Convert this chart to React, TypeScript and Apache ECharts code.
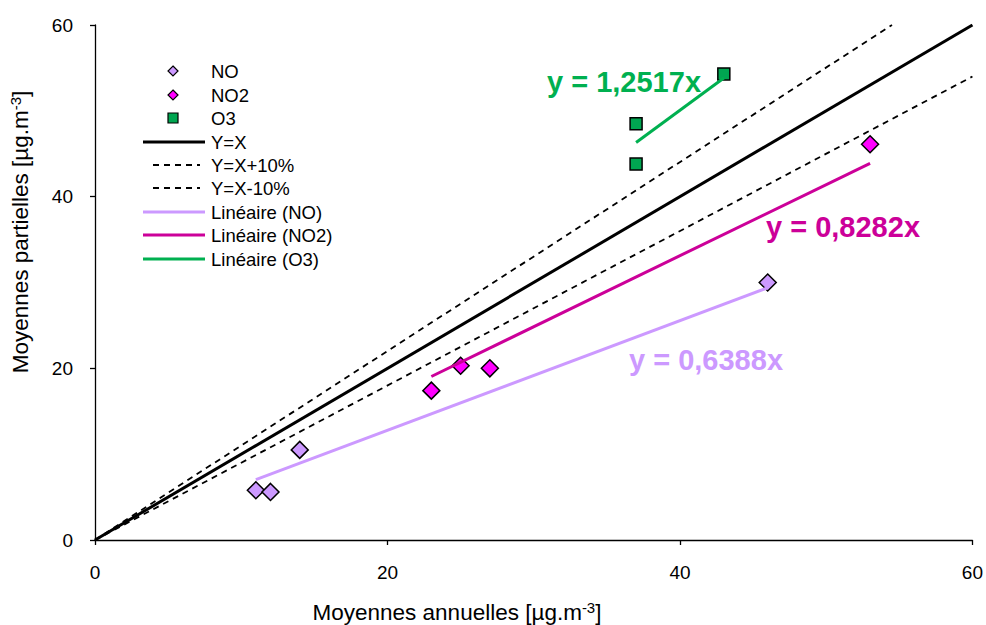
import React, { useEffect, useRef } from "react";
import * as echarts from "echarts";

const xTicks = [0, 20, 40, 60];
const noPoints = [[11, 5.8], [12, 5.6], [14, 10.5], [46, 30.0]];
const no2Points = [[23, 17.4], [25, 20.3], [27, 20.0], [53, 46.1]];
const o3Points = [[37, 48.5], [37, 43.8], [43, 54.3]];
const lineYX = [[0, 0], [60, 60]];
const linePlus10 = [[0, 0], [54.5, 60]];
const lineMinus10 = [[0, 0], [60, 54]];
const trendNO = [[11, 7.03], [46, 29.38]];
const trendNO2 = [[23, 19.05], [53, 43.89]];
const trendO3 = [[37, 46.31], [43, 53.82]];
const eqLabels = ["y = 1,2517x", "y = 0,8282x", "y = 0,6388x"];
const legendNames = ["NO", "NO2", "O3", "Y=X", "Y=X+10%", "Y=X-10%", "Linéaire (NO)", "Linéaire (NO2)", "Linéaire (O3)"];

const FONT = "Liberation Sans, Arial, sans-serif";
const C_NO = "#CC99FF";
const C_NO2 = "#FF00FF";
const C_NO2L = "#CC0099";
const C_O3 = "#00A651";
const C_O3L = "#00B050";

export default function App() {
  const ref = useRef<HTMLDivElement>(null);
  useEffect(() => {
    const chart = echarts.init(ref.current!, null, { renderer: "svg" });
    const diamond = (x: number, y: number, r: number) => [[x, y - r], [x + r, y], [x, y + r], [x - r, y]];
    const rowY = [71, 95, 118, 142, 165, 188, 212, 235, 259];
    const legendGraphics: any[] = [];
    legendGraphics.push({ type: "polygon", shape: { points: diamond(173, rowY[0], 5) }, style: { fill: C_NO, stroke: "#000", lineWidth: 1.2 } });
    legendGraphics.push({ type: "polygon", shape: { points: diamond(173, rowY[1], 5) }, style: { fill: C_NO2, stroke: "#000", lineWidth: 1.2 } });
    legendGraphics.push({ type: "rect", shape: { x: 168, y: rowY[2] - 5, width: 10, height: 10 }, style: { fill: C_O3, stroke: "#000", lineWidth: 1.2 } });
    legendGraphics.push({ type: "line", shape: { x1: 143, y1: rowY[3], x2: 205, y2: rowY[3] }, style: { stroke: "#000", lineWidth: 3 } });
    legendGraphics.push({ type: "line", shape: { x1: 153, y1: rowY[4], x2: 200, y2: rowY[4] }, style: { stroke: "#000", lineWidth: 1.8, lineDash: [6, 5] } });
    legendGraphics.push({ type: "line", shape: { x1: 153, y1: rowY[5], x2: 200, y2: rowY[5] }, style: { stroke: "#000", lineWidth: 1.8, lineDash: [6, 5] } });
    legendGraphics.push({ type: "line", shape: { x1: 143, y1: rowY[6], x2: 205, y2: rowY[6] }, style: { stroke: C_NO, lineWidth: 3 } });
    legendGraphics.push({ type: "line", shape: { x1: 143, y1: rowY[7], x2: 205, y2: rowY[7] }, style: { stroke: C_NO2L, lineWidth: 3 } });
    legendGraphics.push({ type: "line", shape: { x1: 143, y1: rowY[8], x2: 205, y2: rowY[8] }, style: { stroke: C_O3L, lineWidth: 3 } });
    legendNames.forEach((n, i) => {
      legendGraphics.push({
        type: "text", x: 211, y: rowY[i],
        style: { text: n, font: `18.5px ${FONT}`, fill: "#000", verticalAlign: "middle", align: "left" },
      });
    });
    const eqPos = [[624, 82, C_O3L], [843, 227, C_NO2L], [706, 360, C_NO]];
    const eqGraphics = eqLabels.map((t, i) => ({
      type: "text", x: eqPos[i][0], y: eqPos[i][1],
      style: { text: t, font: `bold 29px ${FONT}`, fill: eqPos[i][2], align: "center", verticalAlign: "middle" },
    }));
    const titleGraphics = [
      {
        type: "text", x: 457, y: 612,
        style: {
          text: "{a|Moyennes annuelles [µg.m}{s|-3}{a|]}",
          align: "center", verticalAlign: "middle",
          rich: {
            a: { fontFamily: FONT, fontSize: 22.5, color: "#000" },
            s: { fontFamily: FONT, fontSize: 15, color: "#000", padding: [0, 0, 10, 0] },
          },
        },
      },
      {
        type: "text", x: 20, y: 232, rotation: Math.PI / 2,
        style: {
          text: "{a|Moyennes partielles [µg.m}{s|-3}{a|]}",
          align: "center", verticalAlign: "middle",
          rich: {
            a: { fontFamily: FONT, fontSize: 22.5, color: "#000" },
            s: { fontFamily: FONT, fontSize: 15, color: "#000", padding: [0, 0, 10, 0] },
          },
        },
      },
    ];
    const axisCommon = {
      type: "value" as const,
      min: 0, max: 60, interval: 20,
      splitLine: { show: false },
      axisLine: { show: true, lineStyle: { color: "#000", width: 1.3 } },
      axisTick: { show: true, inside: false, length: 5, lineStyle: { color: "#000", width: 1.3 } },
    };
    const scatter = (name: string, data: number[][], symbol: string, size: number, color: string) => ({
      name, type: "scatter", data, symbol, symbolSize: size,
      itemStyle: { color, borderColor: "#000", borderWidth: 1.5, opacity: 1 },
      z: 3,
    });
    const line = (name: string, data: number[][], color: string, width: number, dashed = false) => ({
      name, type: "line", data, showSymbol: false, symbol: "none",
      lineStyle: { color, width, type: dashed ? [6, 5] : "solid" },
      z: 4,
    });
    chart.setOption({
      animation: false,
      grid: { left: 95, right: 13, top: 25, bottom: 85, containLabel: false },
      xAxis: {
        ...axisCommon,
        axisLabel: { fontFamily: FONT, fontSize: 19, color: "#000", margin: 23, formatter: (v: number) => (xTicks.includes(v) ? String(v) : "") },
      },
      yAxis: {
        ...axisCommon,
        axisLabel: { fontFamily: FONT, fontSize: 19, color: "#000", margin: 22 },
      },
      series: [
        line("Y=X+10%", linePlus10, "#000", 1.8, true),
        line("Y=X-10%", lineMinus10, "#000", 1.8, true),
        line("Y=X", lineYX, "#000", 3),
        scatter("NO", noPoints, "diamond", 17, C_NO),
        scatter("NO2", no2Points, "diamond", 17, C_NO2),
        scatter("O3", o3Points, "rect", 12, C_O3),
        line("Linéaire (NO)", trendNO, C_NO, 3),
        line("Linéaire (NO2)", trendNO2, C_NO2L, 3),
        line("Linéaire (O3)", trendO3, C_O3L, 3),
      ],
      graphic: [...legendGraphics, ...eqGraphics, ...titleGraphics],
    });
    return () => chart.dispose();
  }, []);
  return <div ref={ref} style={{ width: 986, height: 625, position: "absolute", left: 0, top: 0 }} />;
}
